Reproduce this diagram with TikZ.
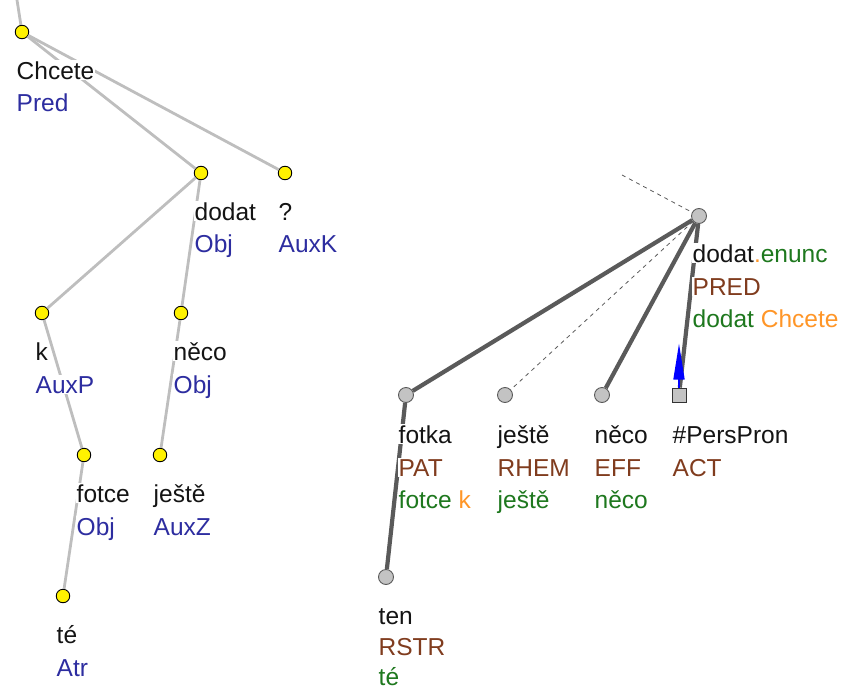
\documentclass[tikz,border=0pt]{standalone}
\usepackage{fontspec}
\setmainfont{Liberation Sans}
\usetikzlibrary{arrows.meta}
\definecolor{txtblack}{RGB}{20,20,20}
\definecolor{afun}{RGB}{45,45,160}
\definecolor{tfun}{RGB}{128,60,30}
\definecolor{tgreen}{RGB}{30,120,30}
\definecolor{torange}{RGB}{255,150,40}
\definecolor{lgray}{RGB}{190,190,190}
\definecolor{dgray}{RGB}{90,90,90}
\definecolor{nodegray}{RGB}{195,195,195}
\tikzset{
  ynode/.style={circle, draw=black, line width=0.9pt, fill=yellow, minimum size=13.5pt, inner sep=0pt},
  gnode/.style={circle, draw=dgray, line width=0.9pt, fill=nodegray, minimum size=15pt, inner sep=0pt},
  gsq/.style={rectangle, draw=black!80, line width=0.9pt, fill=nodegray, minimum size=14pt, inner sep=0pt},
  aedge/.style={draw=lgray, line width=2.8pt},
  tedge/.style={draw=dgray, line width=4.2pt},
  hedge/.style={draw=dgray, line width=0.8pt, dash pattern=on 4pt off 4pt},
  lab/.style={anchor=base west, fill=white, inner xsep=0.5pt, inner ysep=1pt, font=\fontsize{24.5}{28}\selectfont, text=txtblack},
}
\begin{document}
\begin{tikzpicture}[x=1pt, y=-1pt]
\useasboundingbox (0,0) rectangle (843,688);
% ---------- analytical tree ----------
\coordinate (atop) at (17,0);
\node[ynode] (a1) at (22,32) {};
\node[ynode] (a2) at (201,173) {};
\node[ynode] (a3) at (285,173) {};
\node[ynode] (a4) at (42,313) {};
\node[ynode] (a5) at (181,313) {};
\node[ynode] (a6) at (84,455) {};
\node[ynode] (a7) at (160,455) {};
\node[ynode] (a8) at (63,596) {};
\draw[aedge] (atop) -- (a1);
\draw[aedge] (a1) -- (a2);
\draw[aedge] (a1) -- (a3);
\draw[aedge] (a2) -- (a4);
\draw[aedge] (a2) -- (a5);
\draw[aedge] (a4) -- (a6);
\draw[aedge] (a5) -- (a7);
\draw[aedge] (a6) -- (a8);
\node[lab] (a1t) at (16,79) {Chcete};
\node[lab, text=afun] (a1f) at (16,111) {Pred};
\node[lab] (a2t) at (194,220) {dodat};
\node[lab, text=afun] (a2f) at (194,252) {Obj};
\node[lab] (a3t) at (278,220) {?};
\node[lab, text=afun] (a3f) at (278,252) {AuxK};
\node[lab] (a4t) at (35,360) {k};
\node[lab, text=afun] (a4f) at (35,393) {AuxP};
\node[lab] (a5t) at (173,360) {něco};
\node[lab, text=afun] (a5f) at (173,393) {Obj};
\node[lab] (a6t) at (76,502) {fotce};
\node[lab, text=afun] (a6f) at (76,535) {Obj};
\node[lab] (a7t) at (153,502) {ještě};
\node[lab, text=afun] (a7f) at (153,535) {AuxZ};
\node[lab] (a8t) at (56,643) {té};
\node[lab, text=afun] (a8f) at (56,676) {Atr};
% ---------- tectogrammatical tree ----------
\coordinate (ttop) at (622,175);
\node[gnode] (t0) at (699,216) {};
\node[gnode] (t1) at (406,395) {};
\node[gnode] (t2) at (505,395) {};
\node[gnode] (t3) at (602,395) {};
\node[gsq] (t4) at (679,395) {};
\node[gnode] (t5) at (386,577) {};
\draw[hedge] (ttop) -- (t0);
\draw[tedge] (t0) -- (t1);
\draw[hedge] (t0) -- (t2);
\draw[tedge] (t0) -- (t3);
\draw[tedge] (t0) -- (t4);
\draw[tedge] (t1) -- (t5);
\draw[blue, line width=1.6pt, -{Triangle[length=36pt,width=11pt]}] (t4.north) -- ++(0,-44);
\node[lab] (t0a) at (692,262) {dodat\textcolor{torange}{.}\textcolor{tgreen}{enunc}};
\node[lab, text=tfun] (t0b) at (692,295) {PRED};
\node[lab, text=tgreen] (t0c) at (692,327) {dodat \textcolor{torange}{Chcete}};
\node[lab] (t1a) at (398,443) {fotka};
\node[lab, text=tfun] (t1b) at (398,476) {PAT};
\node[lab, text=tgreen] (t1c) at (398,508) {fotce \textcolor{torange}{k}};
\node[lab] (t2a) at (497,443) {ještě};
\node[lab, text=tfun] (t2b) at (497,476) {RHEM};
\node[lab, text=tgreen] (t2c) at (497,508) {ještě};
\node[lab] (t3a) at (594,443) {něco};
\node[lab, text=tfun] (t3b) at (594,476) {EFF};
\node[lab, text=tgreen] (t3c) at (594,508) {něco};
\node[lab] (t4a) at (672,443) {\#PersPron};
\node[lab, text=tfun] (t4b) at (672,476) {ACT};
\node[lab] (t5a) at (378,624) {ten};
\node[lab, text=tfun] (t5b) at (378,655) {RSTR};
\node[lab, text=tgreen] (t5c) at (378,685) {té};
\end{tikzpicture}
\end{document}
